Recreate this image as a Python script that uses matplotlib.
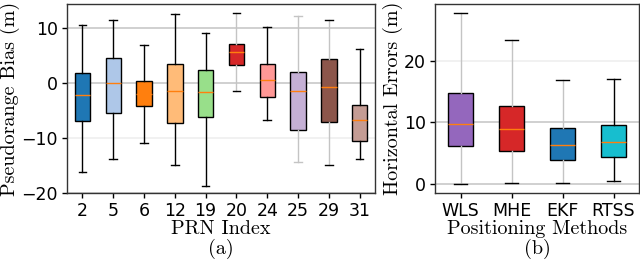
import matplotlib
matplotlib.use('Agg')
import matplotlib.pyplot as plt

# Pseudorange bias per satellite (box statistics)
prn_labels = ['2', '5', '6', '12', '19', '20', '24', '25', '29', '31']
prn_whislo = [-16.2, -13.9, -11.0, -14.9, -18.8, -1.4, -6.8, -14.4, -15.0, -13.8]
prn_q1 = [-7.0, -5.5, -4.3, -7.3, -6.2, 3.25, -2.5, -8.6, -7.2, -10.6]
prn_med = [-2.3, 0.0, -2.0, -1.4, -1.7, 5.6, 0.55, -1.5, -0.8, -6.8]
prn_q3 = [1.8, 4.5, 0.25, 3.4, 2.3, 7.0, 3.4, 2.0, 4.3, -4.0]
prn_whishi = [10.5, 11.4, 6.9, 12.4, 9.0, 12.7, 10.1, 12.2, 11.4, 6.2]
prn_colors = ['#1f77b4', '#aec7e8', '#ff7f0e', '#ffbb78', '#98df8a',
              '#d62728', '#ff9896', '#c5b0d5', '#8c564b', '#c49c94']
prn_whisker_grey = [False, False, False, False, False, True, False, True, True, False]
prn_cap_grey = [False, False, False, False, False, False, False, True, False, False]

# Horizontal errors per positioning method
method_labels = ['WLS', 'MHE', 'EKF', 'RTSS']
method_whislo = [0.0, 0.2, 0.05, 0.4]
method_q1 = [6.1, 5.4, 3.9, 4.4]
method_med = [9.7, 8.9, 6.3, 6.8]
method_q3 = [14.8, 12.6, 9.0, 9.5]
method_whishi = [27.8, 23.3, 16.9, 17.0]
method_colors = ['#9467bd', '#d62728', '#1f77b4', '#17becf']
method_whisker_grey = [True, True, True, False]
method_cap_grey = [False, False, False, False]

GREY = '#c4c4c4'
SERIF = 'cmr10'


def make_stats(labels, lo, q1, med, q3, hi):
    stats = []
    for i, lab in enumerate(labels):
        stats.append({'label': lab, 'whislo': lo[i], 'q1': q1[i], 'med': med[i],
                      'q3': q3[i], 'whishi': hi[i], 'fliers': []})
    return stats


def draw_boxes(ax, stats, colors, whisker_grey, cap_grey):
    bp = ax.bxp(stats, patch_artist=True, widths=0.5, showfliers=False,
                boxprops=dict(edgecolor='black', linewidth=1.0),
                medianprops=dict(color='#ff7f0e', linewidth=1.0),
                whiskerprops=dict(color='black', linewidth=1.0),
                capprops=dict(color='black', linewidth=1.0))
    for i, patch in enumerate(bp['boxes']):
        patch.set_facecolor(colors[i])
        if whisker_grey[i]:
            bp['whiskers'][2 * i].set_color(GREY)
            bp['whiskers'][2 * i + 1].set_color(GREY)
        if cap_grey[i]:
            bp['caps'][2 * i].set_color(GREY)
            bp['caps'][2 * i + 1].set_color(GREY)
    return bp


fig = plt.figure(figsize=(6.4, 2.6), dpi=100)
ax_a = fig.add_axes([67 / 640., 1 - 193 / 260., 308 / 640., 189 / 260.])
ax_b = fig.add_axes([435 / 640., 1 - 193 / 260., 204 / 640., 189 / 260.])

draw_boxes(ax_a, make_stats(prn_labels, prn_whislo, prn_q1, prn_med, prn_q3, prn_whishi),
           prn_colors, prn_whisker_grey, prn_cap_grey)
draw_boxes(ax_b, make_stats(method_labels, method_whislo, method_q1, method_med, method_q3, method_whishi),
           method_colors, method_whisker_grey, method_cap_grey)

ax_a.set_ylim(-20, 14.3)
ax_a.set_yticks([-20, -10, 0, 10])
ax_b.set_ylim(-1.5, 29.2)
ax_b.set_yticks([0, 10, 20])

for ax in (ax_a, ax_b):
    ax.set_axisbelow(True)
    ax.yaxis.grid(True, color='#c8c8c8', linewidth=1.2)
    ax.tick_params(labelsize=12.5, length=3.5, width=1.0, pad=3)
    for sp in ax.spines.values():
        sp.set_color('#333333')
        sp.set_linewidth(1.0)

# the -10 and 20 grid lines come out fainter in the original
ax_a.yaxis.get_gridlines()[1].set_alpha(0.3)
ax_b.yaxis.get_gridlines()[2].set_alpha(0.3)

ax_a.set_ylabel('Pseudorange Bias (m)', fontfamily=SERIF, fontsize=14.5, labelpad=1)
ax_a.set_xlabel('PRN Index\n(a)', fontfamily=SERIF, fontsize=14.5, labelpad=0, linespacing=1.05)
ax_b.set_ylabel('Horizontal Errors (m)', fontfamily=SERIF, fontsize=14.5, labelpad=1)
ax_b.set_xlabel('Positioning Methods\n(b)', fontfamily=SERIF, fontsize=14.5, labelpad=0, linespacing=1.05)

fig.savefig('out.png', dpi=100)
